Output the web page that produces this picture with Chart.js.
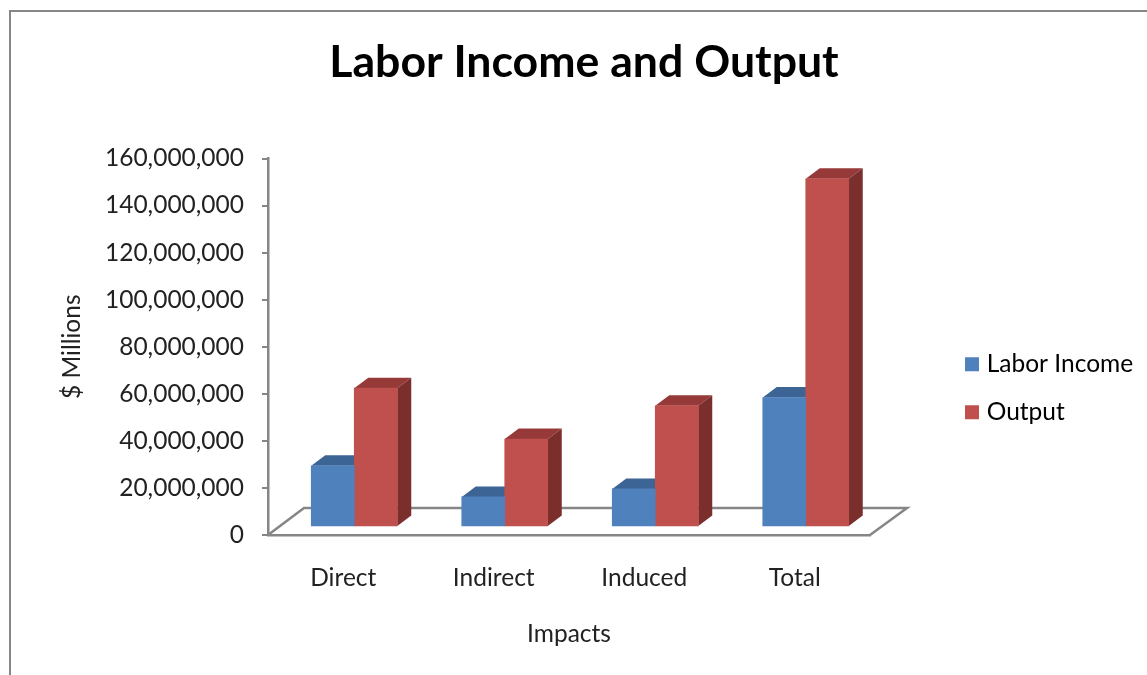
<!DOCTYPE html>
<html><head><meta charset="utf-8">
<script src="https://cdn.jsdelivr.net/npm/chart.js@4"></script>
<style>
html,body{margin:0;padding:0;background:#fff;overflow:hidden}
#wrap{position:relative;width:1147px;height:675px}
#frame{position:absolute;left:9px;top:10px;right:-5px;bottom:-5px;border:2px solid #868686}
canvas{position:absolute;left:0;top:0}
</style></head>
<body><div id="wrap"><div id="frame"></div><canvas id="c" width="1147" height="675"></canvas></div>
<script>
const categories = ["Direct","Indirect","Induced","Total"];
const laborIncome = [26000000,12800000,16200000,55000000];
const output = [59000000,37400000,51500000,148000000];
const seriesNames = ["Labor Income","Output"];
const yTicksMax = 160000000, yStep = 20000000;
const FONT = 'Lato';
const GREY = '#868686';
const COLORS = ['#4F81BD','#C0504D'];

const depth3d = {
  id:'depth3d',
  beforeDraw(chart){
    const a = chart.chartArea, ctx = chart.ctx;
    ctx.save();
    ctx.strokeStyle = GREY; ctx.lineWidth = 2.5;
    ctx.beginPath();
    ctx.moveTo(a.left,a.bottom);
    ctx.lineTo(a.left+36,a.bottom-27);
    ctx.lineTo(a.right+37,a.bottom-27);
    ctx.lineTo(a.right,a.bottom);
    ctx.stroke();
    ctx.restore();
  },
  beforeDatasetsDraw(chart){
    const ctx = chart.ctx, dx = 14, dy = -10.5;
    const shades = [{top:'#3C6494',side:'#3A5F8B'},{top:'#953A38',side:'#7A2F2D'}];
    ctx.save();
    ctx.translate(11,-8);
    chart.data.datasets.forEach((d,i)=>{
      chart.getDatasetMeta(i).data.forEach(bar=>{
        const l = bar.x-bar.width/2, r = bar.x+bar.width/2, t = bar.y, b = bar.base;
        ctx.fillStyle = shades[i].top;
        ctx.beginPath();
        ctx.moveTo(l,t);ctx.lineTo(l+dx,t+dy);ctx.lineTo(r+dx,t+dy);ctx.lineTo(r,t);ctx.closePath();ctx.fill();
        ctx.fillStyle = shades[i].side;
        ctx.beginPath();
        ctx.moveTo(r,t);ctx.lineTo(r+dx,t+dy);ctx.lineTo(r+dx,b+dy);ctx.lineTo(r,b);ctx.closePath();ctx.fill();
      });
    });
  },
  afterDatasetsDraw(chart){ chart.ctx.restore(); },
  afterLayout(chart){
    const lg = chart.legend;
    const w = lg.width, h = lg.height;
    lg.left = 946; lg.right = lg.left+w;
    lg.top = 200; lg.bottom = lg.top+h;
    const t = chart.titleBlock;
    const tw = t.right-t.left;
    t.left = 584-tw/2; t.right = t.left+tw;
  }
};

new Chart(document.getElementById('c'),{
  type:'bar',
  data:{labels:categories,datasets:[
    {label:seriesNames[0],data:laborIncome,backgroundColor:COLORS[0],borderWidth:0},
    {label:seriesNames[1],data:output,backgroundColor:COLORS[1],borderWidth:0}
  ]},
  options:{
    responsive:false,animation:false,
    devicePixelRatio:1,
    layout:{padding:{left:57,right:277,top:0,bottom:26}},
    datasets:{bar:{barThickness:43}},
    plugins:{
      tooltip:{enabled:false},
      title:{display:true,text:'Labor Income and Output',color:'#000',
        font:{family:FONT,size:44.6,weight:'bold'},padding:{top:36,bottom:69}},
      legend:{position:'chartArea',
        labels:{boxWidth:5,boxHeight:5,padding:23.5,color:'#222',font:{family:FONT,size:24.5},
          generateLabels(chart){
            return chart.data.datasets.map((d,i)=>({text:d.label,fillStyle:COLORS[i],strokeStyle:COLORS[i],lineWidth:9,datasetIndex:i,hidden:false}));
          }}}
    },
    scales:{
      x:{
        grid:{display:false,drawTicks:false},
        border:{color:GREY,width:2.5},
        ticks:{color:'#222',padding:28,font:{family:FONT,size:24.5},maxRotation:0},
        title:{display:true,text:'Impacts',color:'#222',font:{family:FONT,size:24.5},padding:{top:19,bottom:0}},
        afterFit(s){s.height=114;}
      },
      y:{
        min:0,max:yTicksMax,
        grid:{display:true,drawOnChartArea:false,drawTicks:true,tickLength:6,color:GREY,lineWidth:2},
        border:{color:GREY,width:2.5},
        ticks:{stepSize:yStep,color:'#222',padding:18,font:{family:FONT,size:24.5},
          callback:v=>v.toLocaleString('en-US')},
        title:{display:true,text:'$ Millions',color:'#222',font:{family:FONT,size:24.5},padding:{top:0,bottom:0}},
        afterFit(s){s.width=211;}
      }
    }
  },
  plugins:[depth3d]
});
</script></body></html>
